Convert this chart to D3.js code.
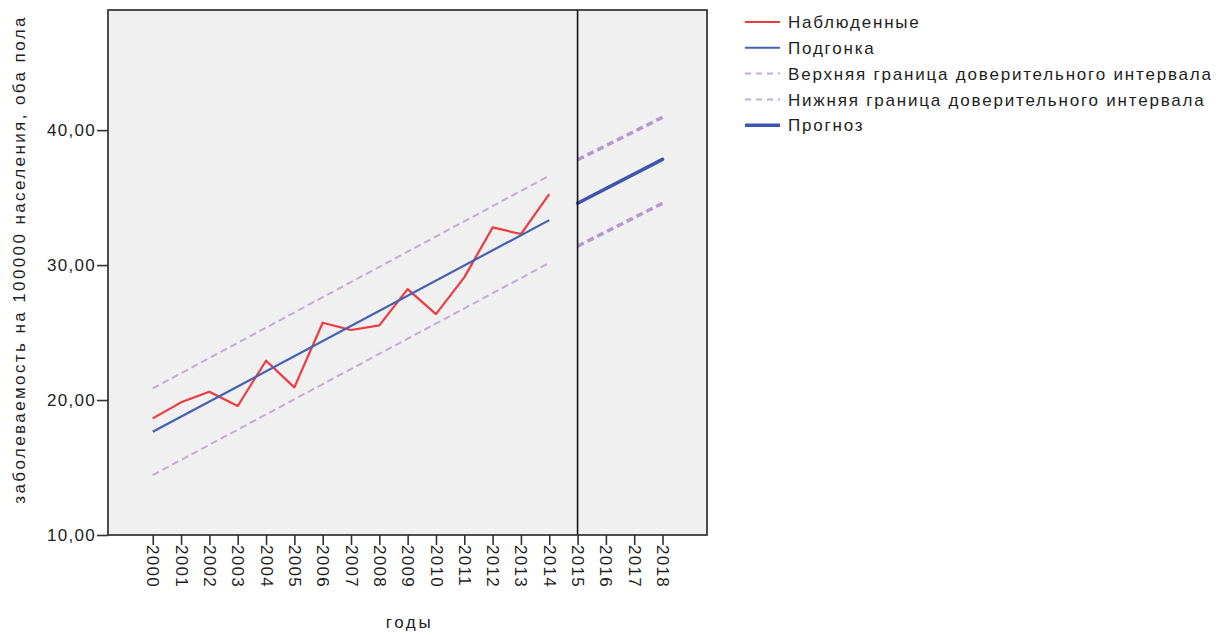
<!DOCTYPE html>
<html>
<head>
<meta charset="utf-8">
<script src="https://cdn.jsdelivr.net/npm/d3@7"></script>
<style>
  html, body { margin: 0; padding: 0; background: #ffffff; }
  svg { display: block; }
  text { font-family: "Liberation Sans", Arial, sans-serif; fill: #1e1e1e; }
</style>
</head>
<body>
<svg id="chart" width="1232" height="635"></svg>
<script>
// Years on the horizontal axis
const years = [2000, 2001, 2002, 2003, 2004, 2005, 2006, 2007, 2008, 2009,
               2010, 2011, 2012, 2013, 2014, 2015, 2016, 2017, 2018];
const yTicks = [10, 20, 30, 40];

// Observed incidence per 100000 population
const observedYears = [2000, 2001, 2002, 2003, 2004, 2005, 2006, 2007,
                       2008, 2009, 2010, 2011, 2012, 2013, 2014];
const observed = [18.64, 19.83, 20.61, 19.56, 22.91, 20.94, 25.73, 25.19,
                  25.53, 28.22, 26.37, 29.09, 32.79, 32.30, 35.26];

// Linear fit and its confidence bounds (straight segments over the history)
const fitYears = [2000, 2014];
const fitValues = [17.65, 33.33];
const fitUpper = [20.86, 36.62];
const fitLower = [14.44, 30.16];

// Forecast and its confidence bounds
const forecastYears = [2015, 2018];
const forecastValues = [34.58, 37.83];
const forecastUpper = [37.80, 40.95];
const forecastLower = [31.40, 34.58];

const forecastStart = 2015;

const legendLabels = [
  "Наблюденные",
  "Подгонка",
  "Верхняя граница доверительного интервала",
  "Нижняя граница доверительного интервала",
  "Прогноз"
];

const colors = {
  observed: "#ee3a3f",
  fit: "#4560b4",
  ci: "#c6a9da",
  forecast: "#3d55b0",
  forecastCi: "#b897d2"
};

const svg = d3.select("#chart");

const plot = { left: 108, right: 707, top: 10, bottom: 535 };

const x = d3.scaleLinear().domain([1998.42, 2019.57]).range([plot.left, plot.right]);
const y = d3.scaleLinear().domain([10, 48.9]).range([plot.bottom, plot.top]);

// Plot background
svg.append("rect")
  .attr("x", plot.left).attr("y", plot.top)
  .attr("width", plot.right - plot.left).attr("height", plot.bottom - plot.top)
  .attr("fill", "#f0f0f0");

const line = d3.line().x(d => x(d[0])).y(d => y(d[1]));
const pairs = (xs, ys) => xs.map((v, i) => [v, ys[i]]);

const g = svg.append("g");

// Confidence bounds of the fit
[fitUpper, fitLower].forEach(arr => {
  g.append("path")
    .attr("d", line(pairs(fitYears, arr)))
    .attr("fill", "none")
    .attr("stroke", colors.ci)
    .attr("stroke-width", 2)
    .attr("stroke-dasharray", "7,4");
});

// Observed series
g.append("path")
  .attr("d", line(pairs(observedYears, observed)))
  .attr("fill", "none")
  .attr("stroke", colors.observed)
  .attr("stroke-width", 2.2)
  .attr("stroke-linejoin", "round");

// Fit
g.append("path")
  .attr("d", line(pairs(fitYears, fitValues)))
  .attr("fill", "none")
  .attr("stroke", colors.fit)
  .attr("stroke-width", 2.2);

// Forecast bounds
[forecastUpper, forecastLower].forEach(arr => {
  g.append("path")
    .attr("d", line(pairs(forecastYears, arr)))
    .attr("fill", "none")
    .attr("stroke", colors.forecastCi)
    .attr("stroke-width", 3.5)
    .attr("stroke-dasharray", "7,4");
});

// Forecast
g.append("path")
  .attr("d", line(pairs(forecastYears, forecastValues)))
  .attr("fill", "none")
  .attr("stroke", colors.forecast)
  .attr("stroke-width", 3.5)
  .attr("stroke-linecap", "round");

// Start of forecast period
svg.append("line")
  .attr("x1", x(forecastStart)).attr("x2", x(forecastStart))
  .attr("y1", plot.top).attr("y2", plot.bottom)
  .attr("stroke", "#111").attr("stroke-width", 1.6);

// Frame
svg.append("rect")
  .attr("x", plot.left).attr("y", plot.top)
  .attr("width", plot.right - plot.left).attr("height", plot.bottom - plot.top)
  .attr("fill", "none")
  .attr("stroke", "#3a3a3a")
  .attr("stroke-width", 1.8);

const FONT = 17;

// Y axis
const fmt = d => d3.format(".2f")(d).replace(".", ",");
const yAxis = svg.append("g")
  .attr("transform", `translate(${plot.left},0)`)
  .call(d3.axisLeft(y).tickValues(yTicks).tickFormat(fmt).tickSize(11).tickPadding(1));
yAxis.select(".domain").remove();
yAxis.selectAll(".tick line").attr("stroke", "#333").attr("stroke-width", 1.6);
yAxis.selectAll(".tick text")
  .attr("font-size", FONT).attr("letter-spacing", "1.3px")
  .attr("font-family", "Liberation Sans, Arial, sans-serif")
  .attr("fill", "#1e1e1e");

// X axis
const xAxis = svg.append("g")
  .attr("transform", `translate(0,${plot.bottom})`)
  .call(d3.axisBottom(x).tickValues(years).tickFormat(d3.format("d")).tickSize(10));
xAxis.select(".domain").remove();
xAxis.selectAll(".tick line").attr("stroke", "#333").attr("stroke-width", 1.6);
xAxis.selectAll(".tick text")
  .attr("font-size", FONT).attr("letter-spacing", "1.3px")
  .attr("font-family", "Liberation Sans, Arial, sans-serif")
  .attr("fill", "#1e1e1e")
  .attr("text-anchor", "start")
  .attr("transform", "rotate(90)")
  .attr("x", 10).attr("y", 0).attr("dy", "0.35em");

// Axis titles
svg.append("text")
  .attr("transform", `translate(25,${(plot.top + plot.bottom) / 2 - 13}) rotate(-90)`)
  .attr("text-anchor", "middle")
  .attr("font-size", FONT).attr("letter-spacing", "2.4px")
  .text("заболеваемость на 100000 населения, оба пола");

svg.append("text")
  .attr("x", (plot.left + plot.right) / 2 + 2)
  .attr("y", 628)
  .attr("text-anchor", "middle")
  .attr("font-size", FONT).attr("letter-spacing", "2.6px")
  .text("годы");

// Legend
const legendStyles = [
  { color: colors.observed, width: 2, dash: null },
  { color: colors.fit, width: 2, dash: null },
  { color: colors.ci, width: 2, dash: "6,5" },
  { color: colors.ci, width: 2, dash: "6,5" },
  { color: colors.forecast, width: 3.5, dash: null }
];
const legend = svg.append("g").attr("transform", "translate(745,22)");
legendLabels.forEach((label, i) => {
  const row = legend.append("g").attr("transform", `translate(0,${i * 25.8})`);
  row.append("line")
    .attr("x1", 0).attr("x2", 35).attr("y1", 0).attr("y2", 0)
    .attr("stroke", legendStyles[i].color)
    .attr("stroke-width", legendStyles[i].width)
    .attr("stroke-dasharray", legendStyles[i].dash);
  row.append("text")
    .attr("x", 43).attr("y", 0).attr("dy", "0.36em")
    .attr("font-size", FONT).attr("letter-spacing", "1.8px")
    .text(label);
});
</script>
</body>
</html>
